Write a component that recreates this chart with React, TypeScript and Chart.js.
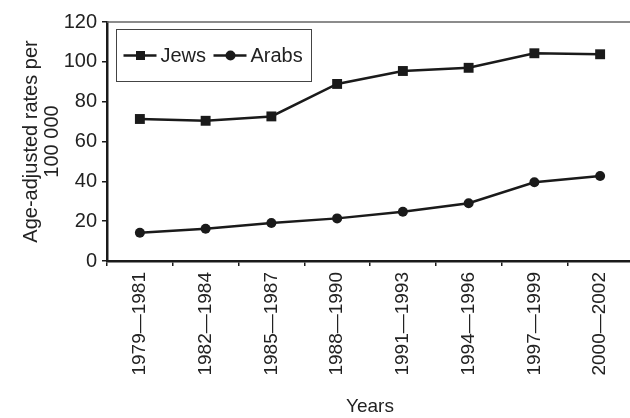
import React, { useEffect, useRef } from "react";
import { Chart, registerables } from "chart.js";

Chart.register(...registerables);

const categories = [
  "1979—1981",
  "1982—1984",
  "1985—1987",
  "1988—1990",
  "1991—1993",
  "1994—1996",
  "1997—1999",
  "2000—2002",
];
const jews = [71.3, 70.4, 72.6, 88.9, 95.4, 97.0, 104.3, 103.8];
const arabs = [14.2, 16.2, 19.1, 21.4, 24.7, 29.0, 39.5, 42.7];
const yTicks = [0, 20, 40, 60, 80, 100, 120];
const seriesNames = ["Jews", "Arabs"];

const FONT = "'Liberation Sans', Arial, Helvetica, sans-serif";
const INK = "#1a1a1a";

const framePlugin = {
  id: "frameAndLegend",
  afterDatasetsDraw(chart: any) {
    const { ctx, chartArea } = chart;
    ctx.save();
    ctx.strokeStyle = "#666";
    ctx.lineWidth = 1.5;
    ctx.beginPath();
    ctx.moveTo(chartArea.left, chartArea.top);
    ctx.lineTo(chartArea.right + 10, chartArea.top);
    ctx.stroke();

    const bx = chartArea.left + 9.5;
    const by = chartArea.top + 7.5;
    const bw = 195;
    const bh = 52;
    ctx.strokeStyle = "#444";
    ctx.lineWidth = 1;
    ctx.fillStyle = "#fff";
    ctx.fillRect(bx, by, bw, bh);
    ctx.strokeRect(bx, by, bw, bh);

    const cy = by + 26;
    const items = [
      { x: bx + 7, style: "rect", label: seriesNames[0] },
      { x: bx + 97, style: "circle", label: seriesNames[1] },
    ];
    ctx.font = `20px ${FONT}`;
    ctx.textBaseline = "middle";
    ctx.textAlign = "left";
    for (const it of items) {
      ctx.strokeStyle = INK;
      ctx.lineWidth = 2.5;
      ctx.beginPath();
      ctx.moveTo(it.x, cy);
      ctx.lineTo(it.x + 33, cy);
      ctx.stroke();
      ctx.fillStyle = INK;
      if (it.style === "rect") {
        ctx.fillRect(it.x + 12.5, cy - 4.5, 9, 9);
      } else {
        ctx.beginPath();
        ctx.arc(it.x + 17, cy, 5, 0, Math.PI * 2);
        ctx.fill();
      }
      ctx.fillStyle = "#222";
      ctx.fillText(it.label, it.x + 37, cy + 1);
    }
    ctx.restore();
  },
};

export default function App() {
  const ref = useRef<HTMLCanvasElement>(null);
  useEffect(() => {
    if (!ref.current) return;
    const chart = new Chart(ref.current, {
      type: "line",
      data: {
        labels: categories,
        datasets: [
          {
            label: seriesNames[0],
            data: jews,
            borderColor: INK,
            backgroundColor: INK,
            borderWidth: 2.5,
            pointStyle: "rect",
            pointRadius: 7,
            pointBorderWidth: 0,
            tension: 0,
          },
          {
            label: seriesNames[1],
            data: arabs,
            borderColor: INK,
            backgroundColor: INK,
            borderWidth: 2.5,
            pointStyle: "circle",
            pointRadius: 5,
            pointBorderWidth: 0,
            tension: 0,
          },
        ],
      },
      options: {
        animation: false,
        responsive: false,
        maintainAspectRatio: false,
        layout: { padding: { top: 22, right: 0, left: 0, bottom: 0 } },
        plugins: { legend: { display: false }, tooltip: { enabled: false } },
        scales: {
          x: {
            offset: true,
            grid: {
              offset: true,
              drawOnChartArea: false,
              drawTicks: true,
              tickLength: 5,
              color: INK,
              lineWidth: 1.5,
            },
            border: { color: INK, width: 2.5 },
            ticks: {
              minRotation: 90,
              maxRotation: 90,
              autoSkip: false,
              padding: 6,
              color: "#222",
              font: { family: FONT, size: 19 },
            },
            title: {
              display: true,
              text: "Years",
              color: "#222",
              font: { family: FONT, size: 19 },
              padding: { top: 0, bottom: 0 },
            },
            afterFit(scale: any) {
              scale.height = 157;
            },
          },
          y: {
            min: 0,
            max: 120,
            afterBuildTicks(scale: any) {
              scale.ticks = yTicks.map((v) => ({ value: v }));
            },
            grid: {
              drawOnChartArea: false,
              drawTicks: true,
              tickLength: 5,
              color: INK,
              lineWidth: 1.5,
            },
            border: { color: INK, width: 2.5 },
            ticks: {
              padding: 5,
              color: "#222",
              font: { family: FONT, size: 20 },
            },
            title: {
              display: true,
              text: ["Age-adjusted rates per", "100 000"],
              color: "#222",
              font: { family: FONT, size: 20, lineHeight: 1.05 },
              padding: { top: 20.5, bottom: 0 },
            },
            afterFit(scale: any) {
              scale.width = 107;
            },
          },
        },
      },
      plugins: [framePlugin],
    });
    return () => chart.destroy();
  }, []);
  return (
    <div style={{ position: "absolute", left: 0, top: 0, width: 630, height: 418, overflow: "hidden", background: "#fff" }}>
      <canvas ref={ref} width={640} height={418} style={{ width: 640, height: 418, display: "block" }} />
    </div>
  );
}
